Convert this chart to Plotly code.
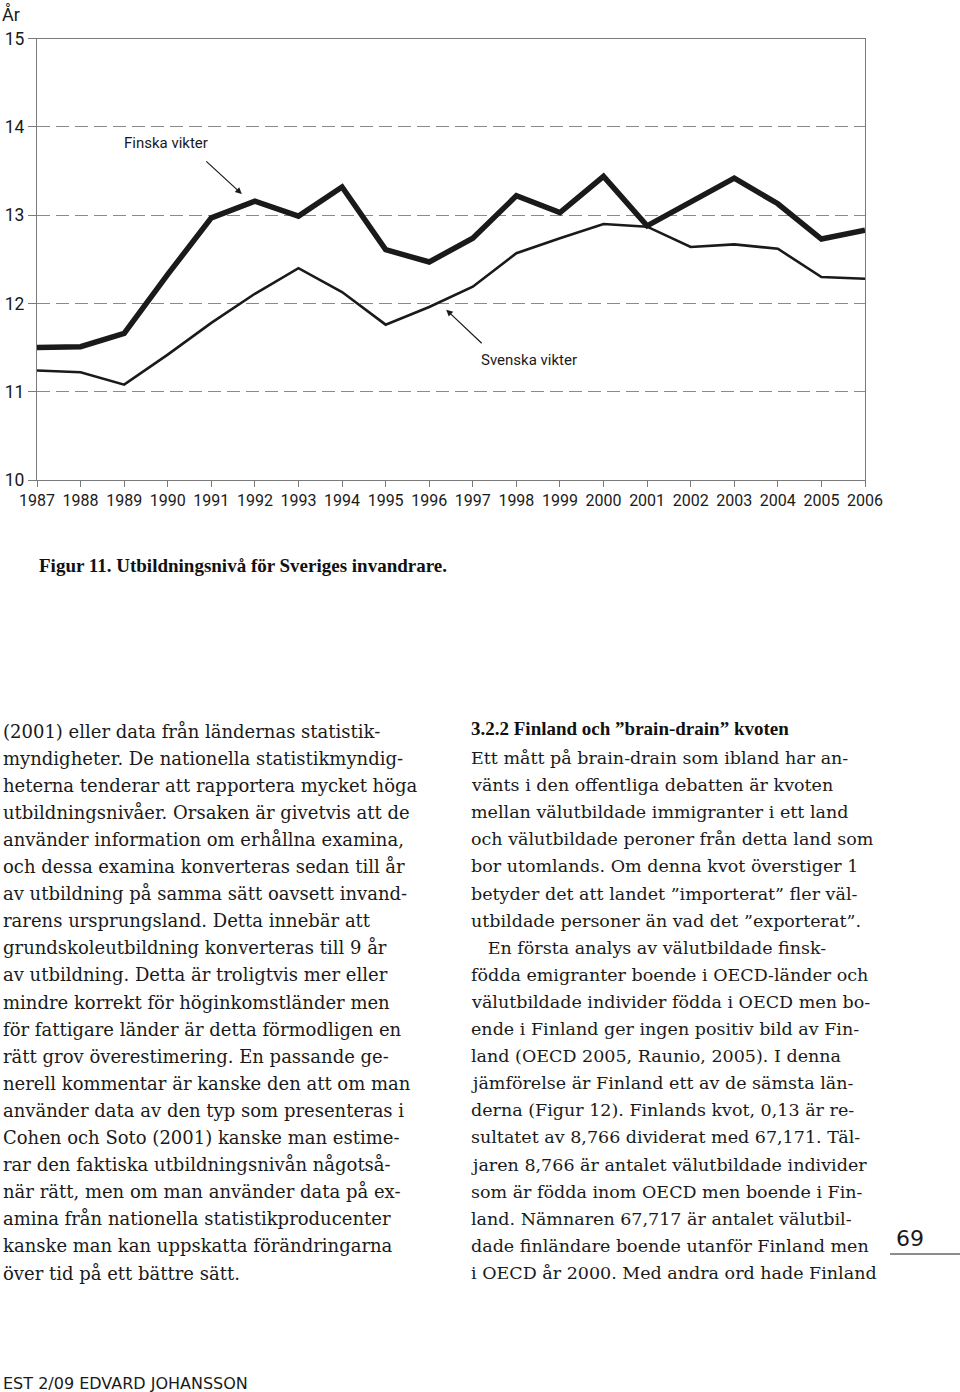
import plotly.graph_objects as go

# data
years = list(range(1987, 2007))
finska = [11.50, 11.51, 11.66, 12.33, 12.97, 13.16, 12.99, 13.32, 12.61, 12.47,
          12.74, 13.22, 13.03, 13.44, 12.88, 13.15, 13.42, 13.13, 12.73, 12.83]
svenska = [11.24, 11.22, 11.08, 11.42, 11.78, 12.11, 12.40, 12.13, 11.76, 11.96,
           12.19, 12.57, 12.74, 12.90, 12.87, 12.64, 12.67, 12.62, 12.30, 12.28]
y_ticks = [10, 11, 12, 13, 14, 15]

left_col = [
    "(2001) eller data från ländernas statistik-",
    "myndigheter. De nationella statistikmyndig-",
    "heterna tenderar att rapportera mycket höga",
    "utbildningsnivåer. Orsaken är givetvis att de",
    "använder information om erhållna examina,",
    "och dessa examina konverteras sedan till år",
    "av utbildning på samma sätt oavsett invand-",
    "rarens ursprungsland. Detta innebär att",
    "grundskoleutbildning konverteras till 9 år",
    "av utbildning. Detta är troligtvis mer eller",
    "mindre korrekt för höginkomstländer men",
    "för fattigare länder är detta förmodligen en",
    "rätt grov överestimering. En passande ge-",
    "nerell kommentar är kanske den att om man",
    "använder data av den typ som presenteras i",
    "Cohen och Soto (2001) kanske man estime-",
    "rar den faktiska utbildningsnivån någotså-",
    "när rätt, men om man använder data på ex-",
    "amina från nationella statistikproducenter",
    "kanske man kan uppskatta förändringarna",
    "över tid på ett bättre sätt.",
]
right_head = "3.2.2 Finland och ”brain-drain” kvoten"
right_col = [
    "Ett mått på brain-drain som ibland har an-",
    "vänts i den offentliga debatten är kvoten",
    "mellan välutbildade immigranter i ett land",
    "och välutbildade peroner från detta land som",
    "bor utomlands. Om denna kvot överstiger 1",
    "betyder det att landet ”importerat” fler väl-",
    "utbildade personer än vad det ”exporterat”.",
    "   En första analys av välutbildade finsk-",
    "födda emigranter boende i OECD-länder och",
    "välutbildade individer födda i OECD men bo-",
    "ende i Finland ger ingen positiv bild av Fin-",
    "land (OECD 2005, Raunio, 2005). I denna",
    "jämförelse är Finland ett av de sämsta län-",
    "derna (Figur 12). Finlands kvot, 0,13 är re-",
    "sultatet av 8,766 dividerat med 67,171. Täl-",
    "jaren 8,766 är antalet välutbildade individer",
    "som är födda inom OECD men boende i Fin-",
    "land. Nämnaren 67,717 är antalet välutbil-",
    "dade finländare boende utanför Finland men",
    "i OECD år 2000. Med andra ord hade Finland",
]

W, H = 960, 1392
narrow = "Roboto, Liberation Sans, sans-serif"
serif = "DejaVu Serif, serif"
bold_serif = "Liberation Serif, serif"


def py(p):
    # pixel row -> paper y
    return 1 - p / H


fig = go.Figure()
fig.add_trace(go.Scatter(x=years, y=svenska, mode="lines",
                         line=dict(color="#1a1a1a", width=2.6), showlegend=False))
fig.add_trace(go.Scatter(x=years, y=finska, mode="lines",
                         line=dict(color="#1a1a1a", width=5.5), showlegend=False))

axis_common = dict(showline=True, linecolor="#7a7a7a", linewidth=1.2, mirror=True,
                   ticks="outside", tickcolor="#7a7a7a", tickwidth=1.2,
                   zeroline=False, automargin=False)

fig.update_xaxes(range=[1987, 2006], tickvals=years, domain=[37 / W, 865 / W],
                 showgrid=False, ticklen=6,
                 tickfont=dict(family=narrow, size=16, color="#1a1a1a"), **axis_common)
fig.update_yaxes(range=[10, 15], tickvals=y_ticks, domain=[py(480), py(38.7)],
                 showgrid=True, gridcolor="#8a8a8a", gridwidth=1.3, griddash="13px,6px",
                 ticklen=8, tickfont=dict(family=narrow, size=17.5, color="#1a1a1a"),
                 **axis_common)

ann = []
# chart labels
ann.append(dict(text="År", x=0, y=py(14), xref="paper", yref="paper",
                xanchor="left", yanchor="middle", showarrow=False,
                font=dict(family=narrow, size=18, color="#1a1a1a")))
ann.append(dict(text="Finska vikter", x=1987 + (166 - 37) / 43.58, y=10 + (480 - 143) / 88.3,
                showarrow=False, font=dict(family=narrow, size=15, color="#1a1a1a")))
ann.append(dict(text="", x=1991.7, y=13.24, ax=-37, ay=-34, showarrow=True,
                arrowhead=2, arrowsize=1.1, arrowwidth=1.2, arrowcolor="#1a1a1a"))
ann.append(dict(text="Svenska vikter", x=1987 + (529 - 37) / 43.58, y=10 + (480 - 360) / 88.3,
                showarrow=False, font=dict(family=narrow, size=15, color="#1a1a1a")))
ann.append(dict(text="", x=1996.39, y=11.93, ax=37, ay=35, showarrow=True,
                arrowhead=2, arrowsize=1.1, arrowwidth=1.2, arrowcolor="#1a1a1a"))

# caption
ann.append(dict(text="<b>Figur 11. Utbildningsnivå för Sveriges invandrare.</b>",
                x=37 / W, y=py(565), xref="paper", yref="paper", xanchor="left",
                yanchor="middle", showarrow=False,
                font=dict(family=bold_serif, size=19, color="#111")))

# body text
for i, line in enumerate(left_col):
    ann.append(dict(text=line, x=1 / W, y=py(731 + 27.1 * i), xref="paper", yref="paper",
                    xanchor="left", yanchor="middle", showarrow=False,
                    font=dict(family=serif, size=18, color="#1a1a1a")))
ann.append(dict(text="<b>" + right_head + "</b>", x=469 / W, y=py(729), xref="paper",
                yref="paper", xanchor="left", yanchor="middle", showarrow=False,
                font=dict(family=bold_serif, size=19, color="#111")))
for i, line in enumerate(right_col):
    ann.append(dict(text=line, x=469 / W, y=py(758 + 27.1 * i), xref="paper", yref="paper",
                    xanchor="left", yanchor="middle", showarrow=False,
                    font=dict(family=serif, size=17.5, color="#1a1a1a")))

# page number and running footer
ann.append(dict(text="69", x=910 / W, y=py(1238), xref="paper", yref="paper",
                xanchor="center", yanchor="middle", showarrow=False,
                font=dict(family="DejaVu Sans, sans-serif", size=22, color="#1a1a1a")))
ann.append(dict(text="EST 2/09 EDVARD JOHANSSON", x=1 / W, y=py(1383), xref="paper",
                yref="paper", xanchor="left", yanchor="middle", showarrow=False,
                font=dict(family="DejaVu Sans, sans-serif", size=16, color="#1a1a1a")))

fig.add_shape(type="line", xref="paper", yref="paper", x0=890 / W, x1=1,
              y0=py(1254), y1=py(1254), line=dict(color="#1a1a1a", width=1))

fig.update_layout(width=W, height=H, margin=dict(l=0, r=0, t=0, b=0),
                  paper_bgcolor="white", plot_bgcolor="white",
                  annotations=ann)

# the page's default body margin would push the figure 8px down and right
fig.write_html("out.html", config={"displayModeBar": False},
               post_script="document.body.style.margin='0';")
